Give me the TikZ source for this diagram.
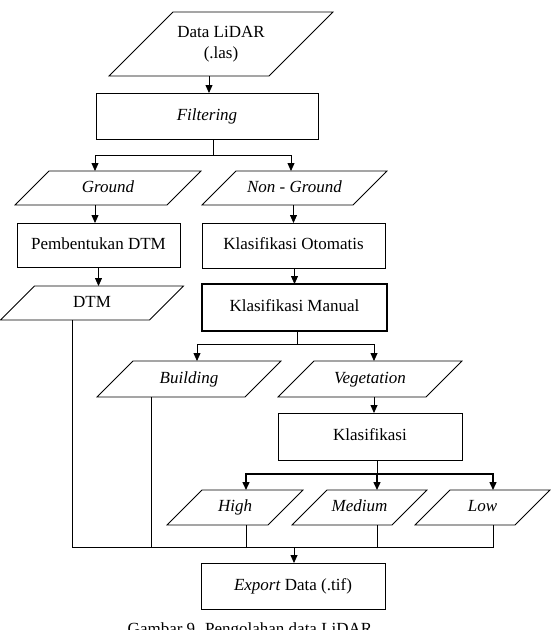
\documentclass[tikz,border=0pt]{standalone}
\usepackage{fontspec}
\setmainfont{Liberation Serif}
\usetikzlibrary{arrows.meta}
\newcommand\drawpara[2]{%
  \draw[line width=0.8pt] ([xshift=#2]#1.north west) -- ([xshift=#2]#1.north east)
    -- ([xshift=-#2]#1.south east) -- ([xshift=-#2]#1.south west) -- cycle;}
\begin{document}
\begin{tikzpicture}[x=1pt,y=-1pt,
  every node/.style={font=\fontsize{17}{21}\selectfont, inner sep=0pt, outer sep=0pt},
  proc/.style={draw, line width=0.8pt, rectangle, align=center, text height=12pt, text depth=4pt},
  para/.style={rectangle, align=center, text height=12pt, text depth=4pt},
  ln/.style={line width=0.8pt},
  bold/.style={line width=1.4pt},
  arr/.style={-{Triangle[length=8pt,width=7pt]}}]
\useasboundingbox (0,0) rectangle (558,630);
\clip (0,0) rectangle (558,630);

% nodes
\node[rectangle, align=center, minimum width=160pt, minimum height=64pt] (data) at (221,44) {Data LiDAR\\(.las)};
\node[proc, minimum width=222pt, minimum height=46pt] (filt) at (207,116) {\textit{Filtering}};
\node[para, minimum width=152pt, minimum height=34pt] (ground) at (108,188) {\textit{Ground}};
\node[para, minimum width=151pt, minimum height=34pt] (nonground) at (294.5,188) {\textit{Non - Ground}};
\node[proc, minimum width=163pt, minimum height=44pt] (pemb) at (98.5,245) {Pembentukan DTM};
\node[proc, minimum width=183pt, minimum height=45pt] (otom) at (293.5,245.5) {Klasifikasi Otomatis};
\node[para, minimum width=149pt, minimum height=34pt] (dtm) at (92,303) {DTM};
\node[proc, line width=1.6pt, minimum width=185pt, minimum height=47pt] (manual) at (294.5,307.5) {Klasifikasi Manual};
\node[para, minimum width=148pt, minimum height=36pt] (building) at (189,379) {\textit{Building}};
\node[para, minimum width=148pt, minimum height=36pt] (veg) at (370,379) {\textit{Vegetation}};
\node[proc, minimum width=184pt, minimum height=47pt] (klas) at (370,436.5) {Klasifikasi};
\node[para, minimum width=101pt, minimum height=35pt] (high) at (235,507.5) {\textit{High}};
\node[para, minimum width=100pt, minimum height=35pt] (medium) at (359.5,507.5) {\textit{Medium}};
\node[para, minimum width=100pt, minimum height=35pt] (low) at (482.5,507.5) {\textit{Low}};
\node[proc, minimum width=184pt, minimum height=46pt] (export) at (293,586) {\textit{Export} Data (.tif)};
\node[anchor=base] (caption) at (250,634) {Gambar 9. Pengolahan data LiDAR};

% parallelogram outlines
\drawpara{data}{32pt}
\drawpara{ground}{17pt}
\drawpara{nonground}{17pt}
\drawpara{dtm}{17pt}
\drawpara{building}{18pt}
\drawpara{veg}{18pt}
\drawpara{high}{17.5pt}
\drawpara{medium}{17.5pt}
\drawpara{low}{17.5pt}

% junction coordinates
\coordinate (s1) at (213,155);
\coordinate (g1) at (95,155);
\coordinate (n1) at (291,155);
\coordinate (s2) at (297,344);
\coordinate (b1) at (197,344);
\coordinate (v1) at (374,344);
\coordinate (s3) at (377,474);
\coordinate (h1) at (246,474);
\coordinate (l1) at (493,474);
\coordinate (m) at (294,547);
\coordinate (d1) at (72,547);
\coordinate (bx) at (151,547);

% connectors
\draw[ln,arr] ([xshift=2pt]filt.north |- data.south) -- ([xshift=2pt]filt.north);
\draw[ln] (filt.south -| s1) -- (s1);
\draw[ln,arr] (s1) -| (g1 |- ground.north);
\draw[ln,arr] (s1) -| (n1 |- nonground.north);
\draw[ln,arr] (g1 |- ground.south) -- (g1 |- pemb.north);
\draw[ln,arr] (pemb.south) -- (pemb.south |- dtm.north);
\draw[ln,arr] (otom.north |- nonground.south) -- (otom.north);
\draw[ln,arr] ([xshift=1pt]otom.south) -- ([xshift=1pt]otom.south |- manual.north);
\draw[ln] (manual.south -| s2) -- (s2);
\draw[ln,arr] (s2) -| (b1 |- building.north);
\draw[ln,arr] (s2) -| (v1 |- veg.north);
\draw[ln,arr] (v1 |- veg.south) -- (v1 |- klas.north);
\draw[ln] (klas.south -| s3) -- (s3);
\draw[bold,arr] (s3) -| (h1 |- high.north);
\draw[bold,arr] (s3) -- (s3 |- medium.north);
\draw[bold,arr] (s3) -| (l1 |- low.north);
\draw[ln] (d1 |- dtm.south) -- (d1) -- (l1 |- m) -- (l1 |- low.south);
\draw[ln] (bx |- building.south) -- (bx);
\draw[ln] (h1 |- high.south) -- (h1 |- m);
\draw[ln] (s3 |- medium.south) -- (s3 |- m);
\draw[ln,arr] (m) -- (m |- export.north);
\end{tikzpicture}
\end{document}
